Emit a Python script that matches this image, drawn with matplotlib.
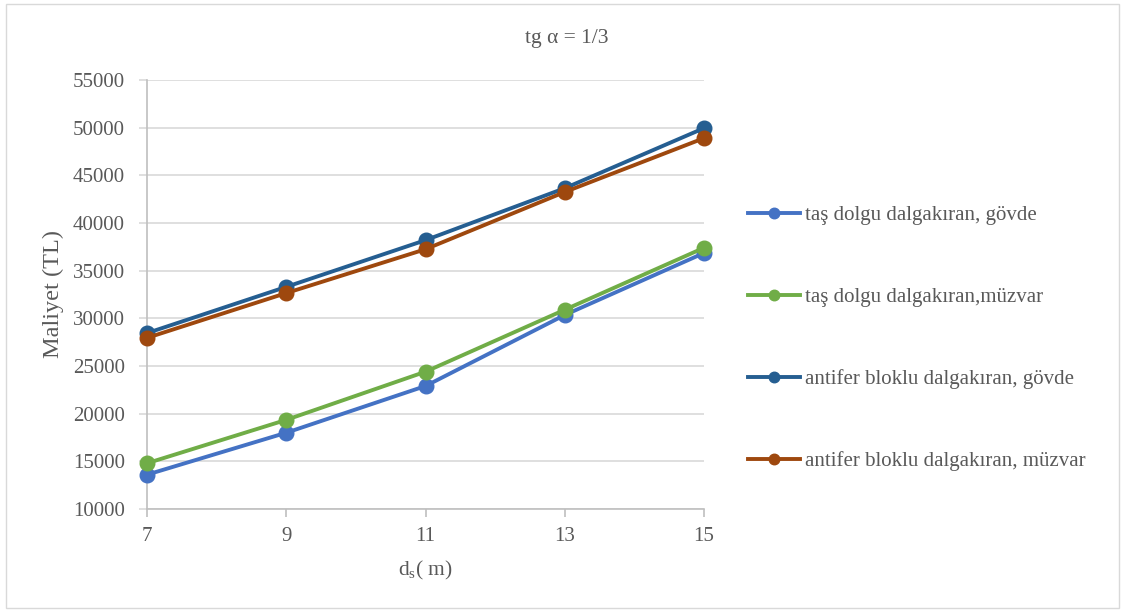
import matplotlib
matplotlib.use("Agg")
import matplotlib.pyplot as plt
from matplotlib.patches import Rectangle

plt.rcParams['font.family'] = ['Liberation Serif', 'DejaVu Serif']

depth = [7, 9, 11, 13, 15]
tas_govde = [13600, 18000, 22900, 30350, 36850]
tas_muzvar = [14800, 19350, 24400, 30900, 37400]
antifer_govde = [28450, 33300, 38200, 43650, 49950]
antifer_muzvar = [27950, 32650, 37250, 43250, 48900]

series = [
    ("taş dolgu dalgakıran, gövde", tas_govde, "#4472C4"),
    ("taş dolgu dalgakıran,müzvar", tas_muzvar, "#70AD47"),
    ("antifer bloklu dalgakıran, gövde", antifer_govde, "#255E91"),
    ("antifer bloklu dalgakıran, müzvar", antifer_muzvar, "#9E480E"),
]

fig = plt.figure(figsize=(11.25, 6.12), dpi=100)
fig.patches.append(Rectangle((0.005, 0.006), 0.99, 0.988, transform=fig.transFigure,
                             fill=False, edgecolor="#d9d9d9", linewidth=1.0))

ax = fig.add_axes([147 / 1125, 1 - 509 / 612, (704 - 147) / 1125, (509 - 80) / 612])

text_color = "#595959"
for label, vals, color in series:
    ax.plot(depth, vals, color=color, linewidth=2.8, marker='o', markersize=10.5,
            label=label, zorder=3, clip_on=False)

ax.set_xlim(7, 15)
ax.set_ylim(10000, 55000)
ax.set_xticks(depth)
ax.set_yticks(range(10000, 55001, 5000))
ax.yaxis.grid(True, color="#d9d9d9", linewidth=1.2)
ax.set_axisbelow(True)

for side in ("top", "right"):
    ax.spines[side].set_visible(False)
for side in ("left", "bottom"):
    ax.spines[side].set_color("#bfbfbf")
    ax.spines[side].set_linewidth(1.2)

ax.tick_params(axis='both', labelsize=15, labelcolor=text_color, colors="#bfbfbf",
               length=6, width=1.2)
ax.tick_params(axis='y', colors="#d9d9d9", labelcolor=text_color, pad=10)
ax.tick_params(axis='x', pad=7)

ax.set_ylabel("Maliyet (TL)", fontsize=17.5, color=text_color, labelpad=6.5)
ax.set_xlabel(r"d$_\mathregular{s}$( m)", fontsize=15.5, color=text_color, labelpad=9)

fig.text(567 / 1125, 1 - 39 / 612, "tg α = 1/3", ha="center", va="center",
         fontsize=15.5, color=text_color)

leg = ax.legend(loc="upper left", bbox_to_anchor=(729 / 1125, 1 - 187 / 612),
                bbox_transform=fig.transFigure, frameon=False, fontsize=15,
                labelspacing=2.98, handlelength=2.5, handletextpad=0.24,
                markerscale=0.72)
for t in leg.get_texts():
    t.set_color(text_color)

fig.savefig("out.png", dpi=100)
